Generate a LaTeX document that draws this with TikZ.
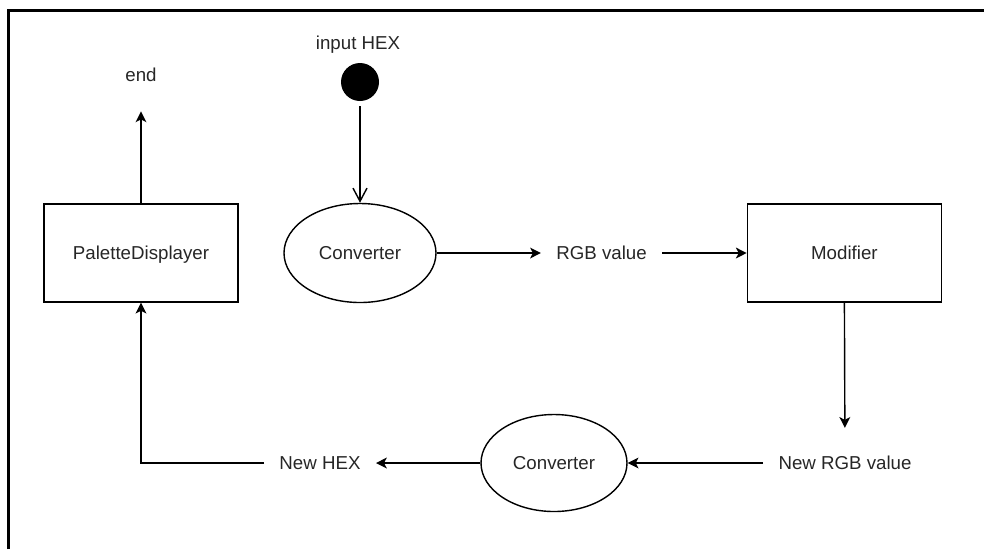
\documentclass[tikz,border=0pt]{standalone}
\usepackage{fontspec}
\setmainfont{Liberation Sans}
\usetikzlibrary{shapes,arrows.meta,positioning}

\begin{document}
\begin{tikzpicture}[>={Stealth[length=2.7mm,width=2.7mm,inset=0.7mm]},
  txt/.style={font=\fontsize{13.3}{16}\selectfont,text=black!85},
  box/.style={txt,draw,line width=1pt,text depth=0pt,minimum width=4.85cm,minimum height=2.45cm},
  conv/.style={txt,draw,ellipse,line width=1pt,text depth=0pt,inner sep=0pt},
  lbl/.style={txt,inner xsep=0.38cm,inner ysep=0.15cm},
  flow/.style={->,line width=1pt}]
 \useasboundingbox (0,0) rectangle (24.6,-13.725);
 % frame
 \draw[line width=2.1pt] (0.22,-13.725)--(0.22,-0.27)--(24.6,-0.27);

 \node[box] (pal) at (3.525,-6.325) {PaletteDisplayer};
 \node[lbl] (end) at (3.525,-1.875) {end};
 \node[txt] (in) at (8.95,-1.125) {input HEX};
 \node[circle,fill=black,minimum size=0.95cm,inner sep=0pt] (start) at (9,-2.05) {};
 \node[conv,minimum width=3.8cm,minimum height=2.475cm] (conv1) at (9,-6.325) {Converter};
 \node[lbl] (rgb) at (15.04,-6.325) {RGB value};
 \node[box] (mod) at (21.11,-6.325) {Modifier};
 \node[lbl] (nrgb) at (21.125,-11.575) {New RGB value};
 \node[conv,minimum width=3.65cm,minimum height=2.425cm] (conv2) at (13.85,-11.575) {Converter};
 \node[lbl] (nhex) at (8,-11.575) {New HEX};

 \draw[line width=1pt,-{Straight Barb[length=3.3mm,width=3.5mm]},shorten <=0.12cm] (start) -- (conv1);
 \draw[flow] (conv1) -- (rgb);
 \draw[flow] (rgb) -- (mod);
 \draw[flow,shorten >=0.55cm] (mod.south) -- (nrgb);
 \draw[flow] (nrgb) -- (conv2);
 \draw[flow] (conv2) -- (nhex);
 \draw[flow] (nhex) -| (pal);
 \draw[flow,shorten >=0.58cm] (pal) -- (end);
\end{tikzpicture}
\end{document}
